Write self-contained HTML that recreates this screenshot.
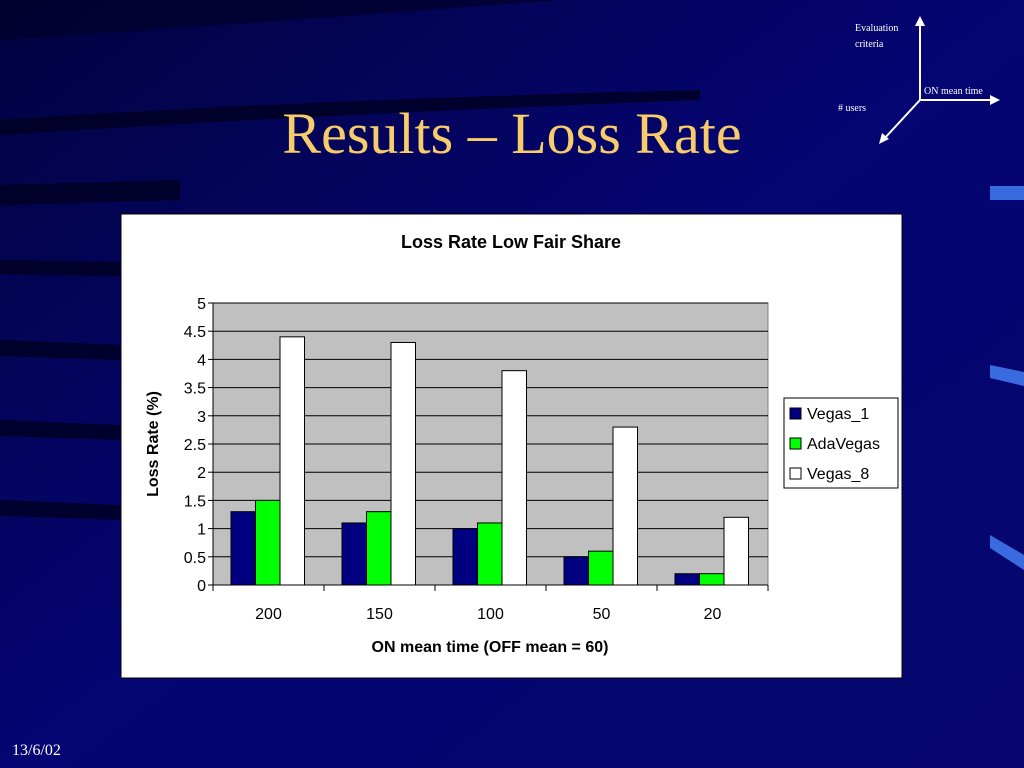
<!DOCTYPE html>
<html><head><meta charset="utf-8"><style>
body{margin:0;width:1024px;height:768px;overflow:hidden;background:#03035e;font-family:"Liberation Sans",sans-serif;position:relative}
.bg{position:absolute;left:0;top:0}
.title{position:absolute;left:0;width:1024px;top:100px;text-align:center;font-family:"Liberation Serif",serif;font-size:58px;color:#f7cc6a}
.date{position:absolute;left:12px;top:742px;font-family:"Liberation Serif",serif;font-size:16px;color:#fff}
</style></head><body>
<svg class="bg" width="1024" height="768">
<defs><linearGradient id="g" x1="0" y1="0" x2="1" y2="1"><stop offset="0" stop-color="#020240"/><stop offset="0.5" stop-color="#050573"/><stop offset="1" stop-color="#06066e"/></linearGradient></defs>
<rect width="1024" height="768" fill="url(#g)"/>
<path d="M0 40 Q300 20 560 0 L1024 0 L0 0Z" fill="#01012a" opacity="0.7"/>
<path d="M0 120 Q300 100 700 90 L700 100 Q300 115 0 135Z" fill="#000020" opacity="0.8"/>
<path d="M0 185 L180 180 L180 200 L0 205Z" fill="#000020" opacity="0.8"/>
<path d="M0 260 L120 262 L120 276 L0 274Z" fill="#000020" opacity="0.8"/>
<path d="M0 340 L120 345 L120 360 L0 356Z" fill="#000020" opacity="0.8"/>
<path d="M0 420 L120 425 L120 440 L0 436Z" fill="#000020" opacity="0.8"/>
<path d="M0 500 L120 505 L120 520 L0 516Z" fill="#000020" opacity="0.8"/>
<rect x="990" y="186" width="34" height="14" fill="#3a6ae0"/>
<path d="M990 365 L1024 372 L1024 386 L990 378Z" fill="#3a6ae0"/>
<path d="M990 535 L1024 555 L1024 570 L990 548Z" fill="#3a6ae0"/>
</svg>
<svg class="bg" width="1024" height="160" style="color:#fff">
<g stroke="#fff" stroke-width="2" fill="#fff">
<line x1="920" y1="100" x2="920" y2="22"/><polygon points="920,16 915,26 925,26" stroke="none"/>
<line x1="920" y1="100" x2="994" y2="100"/><polygon points="1000,100 990,95 990,105" stroke="none"/>
<line x1="920" y1="100" x2="883" y2="140"/><polygon points="879,144 882,133 889,139" stroke="none"/>
</g>
<g font-family="Liberation Serif,serif" font-size="10" fill="#fff">
<text x="855" y="31">Evaluation</text><text x="855" y="47">criteria</text>
<text x="924" y="94">ON mean time</text><text x="838" y="111"># users</text>
</g></svg>
<div class="title">Results – Loss Rate</div>
<div class="date">13/6/02</div>
<svg id="chart" class="bg" width="1024" height="768"></svg>
<script>
const categories=["200","150","100","50","20"];
const vegas1=[1.3,1.1,1.0,0.5,0.2];
const adaVegas=[1.5,1.3,1.1,0.6,0.2];
const vegas8=[4.4,4.3,3.8,2.8,1.2];
const yTicks=["0","0.5","1","1.5","2","2.5","3","3.5","4","4.5","5"];
const seriesNames=["Vegas_1","AdaVegas","Vegas_8"];
const NS="http://www.w3.org/2000/svg";
const svg=document.getElementById('chart');
const X0=213,X1=768,Y0=585,Y1=303,YMAX=5;
const y=v=>Y0-(v/YMAX)*(Y0-Y1);
const cw=(X1-X0)/categories.length;
const x=i=>X0+i*cw;
function mk(t,a,p){const e=document.createElementNS(NS,t);for(const k in a)e.setAttribute(k,a[k]);(p||svg).appendChild(e);return e;}
let e;
e=mk('rect',{x:121,y:214,width:781,height:464,fill:'#fff',stroke:'#000'});


e=mk('text',{x:511,y:248,'text-anchor':'middle','font-size':18,'font-weight':'bold',fill:'#000'});e.textContent='Loss Rate Low Fair Share';


e=mk('rect',{x:X0,y:Y1,width:X1-X0,height:Y0-Y1,fill:'#c0c0c0',stroke:'#808080'});


yTicks.forEach(t=>{const v=parseFloat(t),yy=y(v);
 e=mk('line',{x1:X0,x2:X1,y1:yy,y2:yy,stroke:'#000','stroke-width':1});
 
 
 mk('line',{x1:X0-5,x2:X0,y1:yy,y2:yy,stroke:'#000'});
 e=mk('text',{x:X0-7,y:yy+6,'text-anchor':'end','font-size':16,fill:'#000'});e.textContent=t;
 
 
});
mk('line',{x1:X0,x2:X0,y1:Y1,y2:Y0,stroke:'#000'});
for(let i=0;i<=categories.length;i++)mk('line',{x1:x(i),x2:x(i),y1:Y0,y2:Y0+6,stroke:'#000'});
const colors=['#000080','#00ff00','#ffffff'];
const series=[vegas1,adaVegas,vegas8];
const bw=24.5,off=18;
categories.forEach((c,i)=>{
 series.forEach((s,k)=>{
  e=mk('rect',{x:x(i)+off+k*bw,y:y(s[i]),width:bw,height:Y0-y(s[i]),fill:colors[k],stroke:'#000'});
  
  
 });
 e=mk('text',{x:x(i)+cw/2,y:619,'text-anchor':'middle','font-size':16,fill:'#000'});e.textContent=c;
 
 
});
e=mk('text',{x:490,y:652,'text-anchor':'middle','font-size':16,'font-weight':'bold',fill:'#000'});e.textContent='ON mean time (OFF mean = 60)';


e=mk('text',{x:0,y:0,'text-anchor':'middle','font-size':16,'font-weight':'bold',fill:'#000',transform:'translate(158,444) rotate(-90)'});e.textContent='Loss Rate (%)';


const lg=mk('g',{});


mk('rect',{x:784,y:398,width:114,height:90,fill:'#fff',stroke:'#000'},lg);
seriesNames.forEach((n,k)=>{
 const yy=414+k*30;
 const g=mk('g',{},lg);
 
 
 mk('rect',{x:790,y:yy-6,width:11,height:11,fill:colors[k],stroke:'#000'},g);
 const t=mk('text',{x:807,y:yy+5,'font-size':16,fill:'#000'},g);t.textContent=n;
});
</script>
</body></html>
